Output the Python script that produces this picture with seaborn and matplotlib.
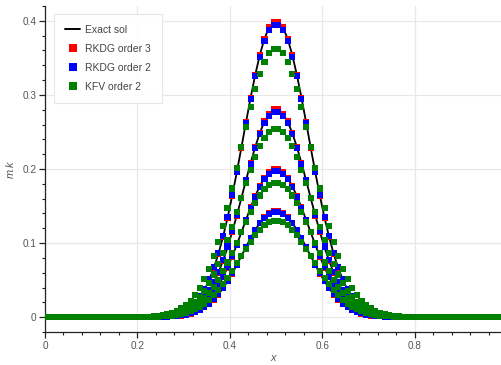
import numpy as np
import pandas as pd
import matplotlib
matplotlib.use("Agg")
import matplotlib.pyplot as plt
import seaborn as sns
from matplotlib.lines import Line2D
from matplotlib.ticker import MultipleLocator, FuncFormatter

# ---------------- data ----------------
# cell centres of the 100-cell grid on [0, 1]
x = np.round(0.005 + 0.01 * np.arange(100), 3)
PAD = [0.0] * 20  # values are zero (to plotting accuracy) away from the bump

exact_1 = PAD + [0.0001, 0.0001, 0.0002, 0.0004, 0.0006, 0.001, 0.0017, 0.0026, 0.0041, 0.0062, 0.0092, 0.0134, 0.0192, 0.0269, 0.0369, 0.0497, 0.0656, 0.0849, 0.1078, 0.134, 0.1634, 0.1954, 0.229, 0.2631, 0.2963, 0.3272, 0.3542, 0.376, 0.3912, 0.399,
                 0.399, 0.3912, 0.376, 0.3542, 0.3272, 0.2963, 0.2631, 0.229, 0.1954, 0.1634, 0.134, 0.1078, 0.0849, 0.0656, 0.0497, 0.0369, 0.0269, 0.0192, 0.0134, 0.0092, 0.0062, 0.0041, 0.0026, 0.0017, 0.001, 0.0006, 0.0004, 0.0002, 0.0001, 0.0001] + PAD
exact_2 = PAD + [0.0001, 0.0001, 0.0001, 0.0003, 0.0004, 0.0007, 0.0012, 0.0019, 0.0029, 0.0044, 0.0065, 0.0094, 0.0135, 0.0189, 0.0259, 0.0349, 0.0461, 0.0597, 0.0757, 0.0941, 0.1148, 0.1372, 0.1608, 0.1848, 0.2082, 0.2299, 0.2489, 0.2641, 0.2748, 0.2803,
                 0.2803, 0.2748, 0.2641, 0.2489, 0.2299, 0.2082, 0.1848, 0.1608, 0.1372, 0.1148, 0.0941, 0.0757, 0.0597, 0.0461, 0.0349, 0.0259, 0.0189, 0.0135, 0.0094, 0.0065, 0.0044, 0.0029, 0.0019, 0.0012, 0.0007, 0.0004, 0.0003, 0.0001, 0.0001, 0.0001] + PAD
exact_3 = PAD + [0.0, 0.0001, 0.0001, 0.0002, 0.0003, 0.0005, 0.0008, 0.0013, 0.002, 0.0031, 0.0046, 0.0067, 0.0096, 0.0134, 0.0185, 0.0249, 0.0328, 0.0425, 0.0539, 0.067, 0.0817, 0.0977, 0.1145, 0.1315, 0.1482, 0.1636, 0.1771, 0.188, 0.1956, 0.1995,
                 0.1995, 0.1956, 0.188, 0.1771, 0.1636, 0.1482, 0.1315, 0.1145, 0.0977, 0.0817, 0.067, 0.0539, 0.0425, 0.0328, 0.0249, 0.0185, 0.0134, 0.0096, 0.0067, 0.0046, 0.0031, 0.002, 0.0013, 0.0008, 0.0005, 0.0003, 0.0002, 0.0001, 0.0001, 0.0] + PAD
exact_4 = PAD + [0.0, 0.0, 0.0001, 0.0001, 0.0002, 0.0004, 0.0006, 0.001, 0.0015, 0.0022, 0.0033, 0.0048, 0.0069, 0.0097, 0.0133, 0.0179, 0.0236, 0.0306, 0.0388, 0.0482, 0.0588, 0.0703, 0.0824, 0.0947, 0.1067, 0.1178, 0.1275, 0.1353, 0.1408, 0.1436,
                 0.1436, 0.1408, 0.1353, 0.1275, 0.1178, 0.1067, 0.0947, 0.0824, 0.0703, 0.0588, 0.0482, 0.0388, 0.0306, 0.0236, 0.0179, 0.0133, 0.0097, 0.0069, 0.0048, 0.0033, 0.0022, 0.0015, 0.001, 0.0006, 0.0004, 0.0002, 0.0001, 0.0001, 0.0, 0.0] + PAD

# RKDG order 3 coincides with the exact solution at plotting accuracy
rkdg3_1, rkdg3_2, rkdg3_3, rkdg3_4 = exact_1, exact_2, exact_3, exact_4

rkdg2_1 = PAD + [0.0001, 0.0002, 0.0003, 0.0004, 0.0007, 0.0012, 0.0019, 0.0029, 0.0045, 0.0067, 0.0099, 0.0143, 0.0203, 0.0282, 0.0385, 0.0515, 0.0675, 0.0869, 0.1097, 0.1358, 0.1648, 0.1963, 0.2292, 0.2626, 0.295, 0.3251, 0.3513, 0.3723, 0.387, 0.3947,
                 0.3947, 0.387, 0.3723, 0.3513, 0.3251, 0.295, 0.2626, 0.2292, 0.1963, 0.1648, 0.1358, 0.1097, 0.0869, 0.0675, 0.0515, 0.0385, 0.0282, 0.0203, 0.0143, 0.0099, 0.0067, 0.0045, 0.0029, 0.0019, 0.0012, 0.0007, 0.0004, 0.0003, 0.0002, 0.0001] + PAD
rkdg2_2 = PAD + [0.0001, 0.0001, 0.0002, 0.0003, 0.0005, 0.0008, 0.0013, 0.0021, 0.0031, 0.0047, 0.0069, 0.0101, 0.0143, 0.0198, 0.027, 0.0362, 0.0474, 0.0611, 0.0771, 0.0954, 0.1158, 0.1379, 0.161, 0.1845, 0.2072, 0.2284, 0.2468, 0.2616, 0.2719, 0.2772,
                 0.2772, 0.2719, 0.2616, 0.2468, 0.2284, 0.2072, 0.1845, 0.161, 0.1379, 0.1158, 0.0954, 0.0771, 0.0611, 0.0474, 0.0362, 0.027, 0.0198, 0.0143, 0.0101, 0.0069, 0.0047, 0.0031, 0.0021, 0.0013, 0.0008, 0.0005, 0.0003, 0.0002, 0.0001, 0.0001] + PAD
rkdg2_3 = PAD + [0.0, 0.0001, 0.0001, 0.0002, 0.0004, 0.0006, 0.0009, 0.0015, 0.0022, 0.0034, 0.0049, 0.0072, 0.0101, 0.0141, 0.0192, 0.0257, 0.0338, 0.0435, 0.0549, 0.0679, 0.0824, 0.0981, 0.1146, 0.1313, 0.1475, 0.1625, 0.1756, 0.1862, 0.1935, 0.1973,
                 0.1973, 0.1935, 0.1862, 0.1756, 0.1625, 0.1475, 0.1313, 0.1146, 0.0981, 0.0824, 0.0679, 0.0549, 0.0435, 0.0338, 0.0257, 0.0192, 0.0141, 0.0101, 0.0072, 0.0049, 0.0034, 0.0022, 0.0015, 0.0009, 0.0006, 0.0004, 0.0002, 0.0001, 0.0001, 0.0] + PAD
rkdg2_4 = PAD + [0.0, 0.0001, 0.0001, 0.0002, 0.0003, 0.0004, 0.0007, 0.0011, 0.0016, 0.0024, 0.0036, 0.0052, 0.0073, 0.0102, 0.0139, 0.0185, 0.0243, 0.0313, 0.0395, 0.0489, 0.0593, 0.0707, 0.0825, 0.0945, 0.1062, 0.117, 0.1265, 0.134, 0.1393, 0.1421,
                 0.1421, 0.1393, 0.134, 0.1265, 0.117, 0.1062, 0.0945, 0.0825, 0.0707, 0.0593, 0.0489, 0.0395, 0.0313, 0.0243, 0.0185, 0.0139, 0.0102, 0.0073, 0.0052, 0.0036, 0.0024, 0.0016, 0.0011, 0.0007, 0.0004, 0.0003, 0.0002, 0.0001, 0.0001, 0.0] + PAD

kfv_1 = PAD + [0.0003, 0.0005, 0.0008, 0.0012, 0.0018, 0.0027, 0.004, 0.0058, 0.0084, 0.0118, 0.0163, 0.0223, 0.0298, 0.0394, 0.0511, 0.0653, 0.082, 0.1014, 0.1234, 0.1476, 0.1737, 0.2012, 0.2293, 0.257, 0.2834, 0.3075, 0.3282, 0.3447, 0.3561, 0.362,
               0.362, 0.3561, 0.3447, 0.3282, 0.3075, 0.2834, 0.257, 0.2293, 0.2012, 0.1737, 0.1476, 0.1234, 0.1014, 0.082, 0.0653, 0.0511, 0.0394, 0.0298, 0.0223, 0.0163, 0.0118, 0.0084, 0.0058, 0.004, 0.0027, 0.0018, 0.0012, 0.0008, 0.0005, 0.0003] + PAD
kfv_2 = PAD + [0.0002, 0.0003, 0.0005, 0.0008, 0.0013, 0.0019, 0.0028, 0.0041, 0.0059, 0.0083, 0.0115, 0.0156, 0.021, 0.0277, 0.0359, 0.0459, 0.0576, 0.0712, 0.0867, 0.1037, 0.122, 0.1414, 0.1611, 0.1805, 0.1991, 0.216, 0.2306, 0.2421, 0.2502, 0.2543,
               0.2543, 0.2502, 0.2421, 0.2306, 0.216, 0.1991, 0.1805, 0.1611, 0.1414, 0.122, 0.1037, 0.0867, 0.0712, 0.0576, 0.0459, 0.0359, 0.0277, 0.021, 0.0156, 0.0115, 0.0083, 0.0059, 0.0041, 0.0028, 0.0019, 0.0013, 0.0008, 0.0005, 0.0003, 0.0002] + PAD
kfv_3 = PAD + [0.0001, 0.0002, 0.0004, 0.0006, 0.0009, 0.0014, 0.002, 0.0029, 0.0042, 0.0059, 0.0082, 0.0111, 0.0149, 0.0197, 0.0256, 0.0327, 0.041, 0.0507, 0.0617, 0.0738, 0.0869, 0.1006, 0.1147, 0.1285, 0.1417, 0.1538, 0.1642, 0.1724, 0.1781, 0.181,
               0.181, 0.1781, 0.1724, 0.1642, 0.1538, 0.1417, 0.1285, 0.1147, 0.1006, 0.0869, 0.0738, 0.0617, 0.0507, 0.041, 0.0327, 0.0256, 0.0197, 0.0149, 0.0111, 0.0082, 0.0059, 0.0042, 0.0029, 0.002, 0.0014, 0.0009, 0.0006, 0.0004, 0.0002, 0.0001] + PAD
kfv_4 = PAD + [0.0001, 0.0002, 0.0003, 0.0004, 0.0007, 0.001, 0.0014, 0.0021, 0.003, 0.0042, 0.0059, 0.008, 0.0107, 0.0142, 0.0184, 0.0235, 0.0295, 0.0365, 0.0444, 0.0531, 0.0626, 0.0725, 0.0826, 0.0925, 0.1021, 0.1107, 0.1182, 0.1241, 0.1282, 0.1303,
               0.1303, 0.1282, 0.1241, 0.1182, 0.1107, 0.1021, 0.0925, 0.0826, 0.0725, 0.0626, 0.0531, 0.0444, 0.0365, 0.0295, 0.0235, 0.0184, 0.0142, 0.0107, 0.008, 0.0059, 0.0042, 0.003, 0.0021, 0.0014, 0.001, 0.0007, 0.0004, 0.0003, 0.0002, 0.0001] + PAD

methods = ["Exact sol", "RKDG order 3", "RKDG order 2", "KFV order 2"]
series = {
    "Exact sol": [exact_1, exact_2, exact_3, exact_4],
    "RKDG order 3": [rkdg3_1, rkdg3_2, rkdg3_3, rkdg3_4],
    "RKDG order 2": [rkdg2_1, rkdg2_2, rkdg2_3, rkdg2_4],
    "KFV order 2": [kfv_1, kfv_2, kfv_3, kfv_4],
}
colors = {"RKDG order 3": "#ff0000", "RKDG order 2": "#0000ff", "KFV order 2": "#008000"}

rows = []
for m in methods:
    for k, vals in enumerate(series[m]):
        for xi, yi in zip(x, vals):
            rows.append((m, k, xi, yi))
df = pd.DataFrame(rows, columns=["method", "curve", "x", "y"])

# ---------------- style ----------------
sns.set_theme(style="white")
plt.rcParams["font.family"] = ["Liberation Sans", "DejaVu Sans"]
plt.rcParams["axes.unicode_minus"] = False

fig = plt.figure(figsize=(5.02, 3.65), dpi=100)
ax = fig.add_axes([45 / 502, 33 / 365, 457 / 502, 326 / 365])

sns.lineplot(data=df[df.method == "Exact sol"], x="x", y="y", units="curve",
             estimator=None, color="black", lw=1.3, sort=False, legend=False,
             ax=ax, zorder=2)
sns.scatterplot(data=df[df.method != "Exact sol"], x="x", y="y", hue="method",
                palette=colors, marker="s", s=19, linewidth=0, legend=False,
                ax=ax, zorder=3)

ax.set_xlim(0, 0.989)
ax.set_ylim(-0.02, 0.42)

ax.xaxis.set_major_locator(MultipleLocator(0.2))
ax.xaxis.set_minor_locator(MultipleLocator(0.04))
ax.yaxis.set_major_locator(MultipleLocator(0.1))
ax.yaxis.set_minor_locator(MultipleLocator(0.02))
fmt = FuncFormatter(lambda v, p: "0" if abs(v) < 1e-9 else f"{v:g}")
ax.xaxis.set_major_formatter(fmt)
ax.yaxis.set_major_formatter(fmt)

ax.grid(True, which="major", color="#e8e8e8", lw=0.9)
ax.set_axisbelow(True)
for s in ["top", "right"]:
    ax.spines[s].set_visible(False)
for s in ["left", "bottom"]:
    ax.spines[s].set_color("#222222")
    ax.spines[s].set_linewidth(0.9)

ax.tick_params(which="major", direction="out", length=4, width=0.9,
               color="#222222", labelsize=7.2, labelcolor="#555555", pad=2.2,
               left=True, bottom=True)
ax.tick_params(which="minor", direction="out", length=2.3, width=0.8,
               color="#222222", left=True, bottom=True)

ax.set_xlabel("x", fontstyle="italic", fontsize=7.8, color="#555555")
ax.set_ylabel("m.k", fontstyle="italic", fontsize=7.8, color="#555555")
ax.xaxis.label.set_verticalalignment("center")
ax.yaxis.label.set_verticalalignment("center")
ax.xaxis.set_label_coords(0.5, -0.08)
ax.yaxis.set_label_coords(-0.074, 0.5)

handles = [Line2D([0], [0], color="black", lw=1.4)]
for m in methods[1:]:
    handles.append(Line2D([0], [0], ls="none", marker="s", markersize=5.2,
                          markerfacecolor=colors[m], markeredgewidth=0))
leg = ax.legend(handles, methods, loc="upper left", bbox_to_anchor=(0.02, 0.975),
                borderaxespad=0, fontsize=7.5, frameon=True, fancybox=False,
                handlelength=1.45, handletextpad=0.5, labelspacing=0.85,
                borderpad=1.05, labelcolor="#444444")
leg.get_frame().set_edgecolor("#e6e6e6")
leg.get_frame().set_linewidth(0.8)
leg.get_frame().set_alpha(0.95)

fig.savefig("out.png", dpi=100)
